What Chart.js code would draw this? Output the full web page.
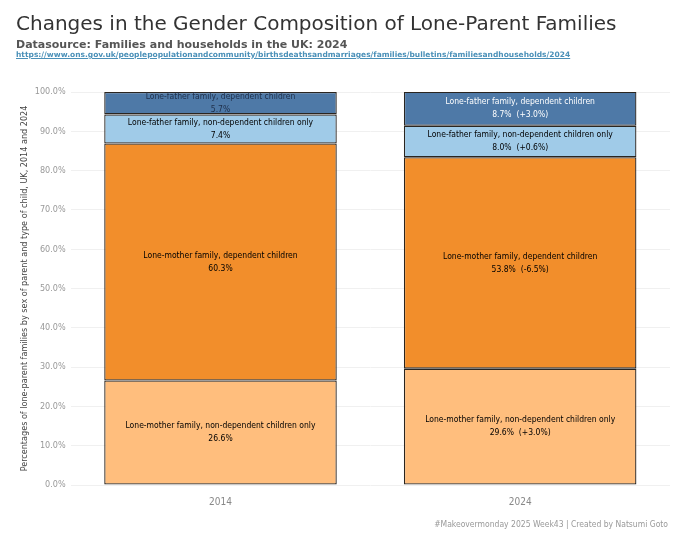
<!DOCTYPE html>
<html>
<head>
<meta charset="utf-8">
<script src="https://cdn.jsdelivr.net/npm/chart.js@4.4.1/dist/chart.umd.min.js"></script>
<style>
  body { margin: 0; background: #fff; }
  #wrap { position: relative; width: 680px; height: 544px; overflow: hidden; }
  #chart { position: absolute; left: 0; top: 0; }
  .title { position: absolute; left: 16px; top: 11px; font-family: "DejaVu Sans", sans-serif; font-size: 20px; color: #333; white-space: nowrap; }
  .sub { position: absolute; left: 16px; top: 38px; font-family: "DejaVu Sans", sans-serif; font-weight: bold; font-size: 11px; color: #555; white-space: nowrap; }
  .link { position: absolute; left: 16px; top: 50px; font-family: "DejaVu Sans", sans-serif; font-weight: bold; font-size: 7.5px; color: #4a90b8; text-decoration: underline; white-space: nowrap; }
  .foot { position: absolute; right: 12px; top: 519px; font-family: "Liberation Sans Narrow", "DejaVu Sans Condensed", sans-serif; font-size: 8.5px; color: #999; white-space: nowrap; }
</style>
</head>
<body>
<div id="wrap">
  <canvas id="chart" width="680" height="544"></canvas>
  <div class="title">Changes in the Gender Composition of Lone-Parent Families</div>
  <div class="sub">Datasource: Families and households in the UK: 2024</div>
  <a class="link" href="https://www.ons.gov.uk/peoplepopulationandcommunity/birthsdeathsandmarriages/families/bulletins/familiesandhouseholds/2024">https://www.ons.gov.uk/peoplepopulationandcommunity/birthsdeathsandmarriages/families/bulletins/familiesandhouseholds/2024</a>
  <div class="foot">#Makeovermonday 2025 Week43 | Created by Natsumi Goto</div>
</div>
<script>
const years = ['2014', '2024'];
const motherNonDependent = [26.6, 29.6];
const motherDependent = [60.3, 53.8];
const fatherNonDependent = [7.4, 8.0];
const fatherDependent = [5.7, 8.7];

const seriesNames = [
  'Lone-mother family, non-dependent children only',
  'Lone-mother family, dependent children',
  'Lone-father family, non-dependent children only',
  'Lone-father family, dependent children'
];

const labelFont = '"Liberation Sans Narrow", "DejaVu Sans Condensed", sans-serif';

// draw the name, value and change inside each segment
const segmentLabels = {
  id: 'segmentLabels',
  afterDatasetsDraw(chart) {
    const ctx = chart.ctx;
    ctx.save();
    ctx.font = '8.5px ' + labelFont;
    ctx.textAlign = 'center';
    ctx.textBaseline = 'middle';
    chart.data.datasets.forEach((ds, di) => {
      const meta = chart.getDatasetMeta(di);
      meta.data.forEach((bar, i) => {
        const cy = (bar.y + bar.base) / 2;
        let txt = ds.data[i].toFixed(1) + '%';
        if (i > 0) {
          const d = ds.data[i] - ds.data[i - 1];
          txt += '  (' + (d >= 0 ? '+' : '') + d.toFixed(1) + '%)';
        }
        ctx.fillStyle = '#000';
        if (di === 3) ctx.fillStyle = i === 1 ? '#ffffff' : '#1f2f4a';
        ctx.fillText(ds.label, bar.x, cy - 6.5);
        ctx.fillText(txt, bar.x, cy + 6.5);
      });
    });
    ctx.restore();
  }
};

const colours = ['#ffbe7d', '#f28e2b', '#a0cbe8', '#4e79a7'];
const values = [motherNonDependent, motherDependent, fatherNonDependent, fatherDependent];

new Chart(document.getElementById('chart'), {
  type: 'bar',
  data: {
    labels: years,
    datasets: values.map((v, k) => ({
      label: seriesNames[k],
      data: v,
      backgroundColor: colours[k],
      borderColor: '#2a2520',
      borderWidth: 1.3,
      borderSkipped: false,
      categoryPercentage: 1,
      barPercentage: 0.776
    }))
  },
  options: {
    responsive: false,
    animation: false,
    layout: { padding: { top: 92, bottom: 33, left: 11, right: 10 } },
    plugins: { legend: { display: false }, tooltip: { enabled: false } },
    scales: {
      x: {
        stacked: true,
        grid: { display: false },
        border: { display: false },
        ticks: { color: '#888', font: { family: labelFont, size: 10 } }
      },
      y: {
        stacked: true,
        min: 0,
        max: 100,
        ticks: {
          stepSize: 10,
          padding: 5,
          color: '#999',
          font: { family: labelFont, size: 9 },
          callback: v => v.toFixed(1) + '%'
        },
        grid: { color: '#f0f0f0', drawTicks: false },
        border: { display: false },
        title: {
          display: true,
          text: 'Percentages of lone-parent families by sex of parent and type of child, UK, 2014 and 2024',
          color: '#444',
          padding: { top: 8, bottom: 0 },
          font: { family: labelFont, size: 9 }
        }
      }
    }
  },
  plugins: [segmentLabels]
});
</script>
</body>
</html>
